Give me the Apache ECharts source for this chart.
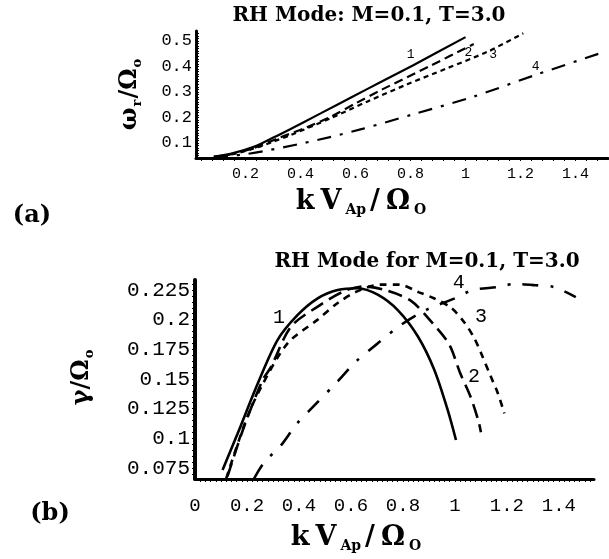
<!DOCTYPE html>
<html><head><meta charset="utf-8">
<script src="https://cdn.jsdelivr.net/npm/echarts@6/dist/echarts.min.js"></script>
<style>html,body{margin:0;padding:0;background:#fff}#c{width:609px;height:559px}</style>
</head><body><div id="c"></div>
<script>
// ---------- tick labels ----------
const topXTicks = [0.2, 0.4, 0.6, 0.8, 1, 1.2, 1.4];
const topXTickLabels = ['0.2', '0.4', '0.6', '0.8', '1', '1.2', '1.4'];
const topYTicks = [0.1, 0.2, 0.3, 0.4, 0.5];
const topYTickLabels = ['0.1', '0.2', '0.3', '0.4', '0.5'];
const botXTicks = [0, 0.2, 0.4, 0.6, 0.8, 1, 1.2, 1.4];
const botXTickLabels = ['0', '0.2', '0.4', '0.6', '0.8', '1', '1.2', '1.4'];
const botYTicks = [0.075, 0.1, 0.125, 0.15, 0.175, 0.2, 0.225];
const botYTickLabels = ['0.075', '0.1', '0.125', '0.15', '0.175', '0.2', '0.225'];

// ---------- panel (a): real frequency ----------
const topK1 = [0.085, 0.145, 0.23, 0.303, 0.364, 0.473, 0.594, 0.69, 0.81, 1.0];
const topW1 = [0.046, 0.057, 0.085, 0.122, 0.155, 0.216, 0.284, 0.338, 0.405, 0.515];
const topK2 = [0.085, 0.145, 0.23, 0.327, 0.42, 0.51, 0.6, 0.69, 0.873, 1.03];
const topW2 = [0.046, 0.055, 0.08, 0.122, 0.16, 0.203, 0.255, 0.306, 0.403, 0.488];
const topK3 = [0.085, 0.145, 0.23, 0.3, 0.364, 0.51, 0.642, 0.788, 0.933, 1.08, 1.21];
const topW3 = [0.046, 0.054, 0.078, 0.105, 0.131, 0.197, 0.262, 0.33, 0.393, 0.458, 0.53];
const topK4 = [0.085, 0.145, 0.2, 0.267, 0.4, 0.515, 0.628, 0.812, 1.03, 1.255, 1.49];
const topW4 = [0.046, 0.05, 0.056, 0.068, 0.097, 0.125, 0.156, 0.213, 0.282, 0.367, 0.452];
const topCurveLabels = ['1', '2', '3', '4'];
const topCurveLabelK = [0.8, 1.01, 1.1, 1.255];
const topCurveLabelW = [0.445, 0.453, 0.445, 0.398];

// ---------- panel (b): growth rate ----------
const botK1 = [0.106, 0.164, 0.241, 0.318, 0.395, 0.472, 0.549, 0.626, 0.703, 0.78, 0.857, 0.92, 0.972, 1.004];
const botG1 = [0.0733, 0.104, 0.146, 0.183, 0.204, 0.218, 0.225, 0.2265, 0.221, 0.208, 0.186, 0.158, 0.124, 0.0986];
const botK2 = [0.125, 0.189, 0.26, 0.292, 0.369, 0.472, 0.574, 0.651, 0.73, 0.83, 0.914, 0.978, 1.02, 1.06, 1.09, 1.1];
const botG2 = [0.068, 0.11, 0.149, 0.16, 0.194, 0.211, 0.224, 0.228, 0.225, 0.216, 0.197, 0.179, 0.155, 0.135, 0.115, 0.105];
const botK3 = [0.12, 0.196, 0.254, 0.356, 0.472, 0.549, 0.626, 0.715, 0.785, 0.862, 0.919, 0.985, 1.035, 1.073, 1.1, 1.138, 1.165, 1.19];
const botG3 = [0.066, 0.115, 0.143, 0.18, 0.2, 0.214, 0.224, 0.2295, 0.2295, 0.223, 0.218, 0.21, 0.198, 0.185, 0.172, 0.152, 0.138, 0.121];
const botK4 = [0.227, 0.267, 0.331, 0.391, 0.465, 0.549, 0.619, 0.703, 0.792, 0.888, 1.0, 1.07, 1.165, 1.227, 1.31, 1.38, 1.465];
const botG4 = [0.066, 0.08, 0.094, 0.112, 0.129, 0.148, 0.1646, 0.18, 0.1955, 0.208, 0.218, 0.225, 0.2275, 0.23, 0.229, 0.2275, 0.219];
const botCurveLabels = ['1', '2', '3', '4'];
const botCurveLabelK = [0.323, 1.073, 1.1, 1.015];
const botCurveLabelG = [0.2014, 0.1517, 0.2022, 0.2309];

// ---------- helpers ----------
const zip = (a, b) => a.map((v, i) => [v, b[i]]);
const lab = (ticks, labels) => (v) => {
  let bi = 0, bd = Infinity;
  ticks.forEach((t, i) => { const d = Math.abs(t - v); if (d < bd) { bd = d; bi = i; } });
  return labels[bi];
};
function minor(a, b, step) { const r = []; for (let v = a; v <= b + 1e-9; v += step) r.push(+v.toFixed(4)); return r; }

const AX = { show: true, lineStyle: { color: '#000', width: 3 } };
const serif = '"DejaVu Serif", "Liberation Serif", serif';
const mono = '"Liberation Mono", "DejaVu Sans Mono", monospace';

function lineSeries(xi, data, type, w) {
  return {
    type: 'line', xAxisIndex: xi, yAxisIndex: xi, data: data, showSymbol: false, smooth: 0.3,
    lineStyle: { color: '#000', width: w, type: type }, z: 3, animation: false, emphasis: { disabled: true }
  };
}
function labelSeries(xi, names, ks, vs, fs) {
  return {
    type: 'scatter', xAxisIndex: xi, yAxisIndex: xi, symbolSize: 1, animation: false, z: 5,
    itemStyle: { color: '#fff', opacity: 1 }, emphasis: { disabled: true }, silent: true,
    data: names.map((n, i) => ({ name: n, value: [ks[i], vs[i]] })),
    label: { show: true, position: 'inside', formatter: p => p.name, color: '#000', opacity: 1,
      textBorderWidth: 0, fontFamily: mono, fontSize: fs }
  };
}

const chart = echarts.init(document.getElementById('c'), null, { renderer: 'canvas' });
const dashTop2 = [9, 5], dashTop3 = [5, 4], dashTop4 = [14, 9, 3, 9];
const dashBot2 = [14, 7], dashBot3 = [7, 6], dashBot4 = [16, 12, 3, 12];

const xRich = {
  m: { font: 'bold 27px ' + serif, lineHeight: 30, padding: [0, 3, 0, 3] },
  s: { font: 'bold 14px ' + serif, lineHeight: 14, verticalAlign: 'bottom', padding: [0, 1, 0, 1] }
};
const yRich = {
  m: { font: 'bold 24px ' + serif, lineHeight: 28, padding: [0, 1, 0, 1] },
  s: { font: 'bold 13px ' + serif, lineHeight: 13, verticalAlign: 'bottom' }
};

chart.setOption({
  backgroundColor: '#fff',
  animation: false,
  grid: [
    { left: 196, width: 412, top: 31, height: 127 },
    { left: 195, width: 399, top: 280, height: 199 }
  ],
  xAxis: [
    { type: 'value', gridIndex: 0, min: 0.02, max: 1.518, splitLine: { show: false },
      axisLine: AX,
      axisTick: { show: true, customValues: minor(0.04, 1.5, 0.04), length: 3, inside: false, lineStyle: { color: '#000', width: 1 } },
      axisLabel: { customValues: topXTicks, formatter: lab(topXTicks, topXTickLabels), fontFamily: mono, fontSize: 15, color: '#000', margin: 9 } },
    { type: 'value', gridIndex: 1, min: 0, max: 1.535, splitLine: { show: false },
      axisLine: AX,
      axisTick: { show: true, customValues: minor(0.02, 1.52, 0.02), length: 3, inside: false, lineStyle: { color: '#000', width: 1 } },
      axisLabel: { customValues: botXTicks, formatter: lab(botXTicks, botXTickLabels), fontFamily: mono, fontSize: 19, color: '#000', margin: 17 } }
  ],
  yAxis: [
    { type: 'value', gridIndex: 0, min: 0.041, max: 0.539, splitLine: { show: false },
      axisLine: AX,
      axisTick: { show: true, customValues: minor(0.05, 0.53, 0.01), length: 3, inside: true, lineStyle: { color: '#000', width: 1 } },
      axisLabel: { customValues: topYTicks, formatter: lab(topYTicks, topYTickLabels), fontFamily: mono, fontSize: 17, color: '#000', margin: 4 } },
    { type: 'value', gridIndex: 1, min: 0.0657, max: 0.2334, splitLine: { show: false },
      axisLine: { show: true, lineStyle: { color: '#000', width: 4 } },
      axisTick: { show: true, customValues: minor(0.07, 0.23, 0.005), length: 3, inside: false, lineStyle: { color: '#000', width: 1 } },
      axisLabel: { customValues: botYTicks, formatter: lab(botYTicks, botYTickLabels), fontFamily: mono, fontSize: 21, color: '#000', margin: 5 } }
  ],
  series: [
    lineSeries(0, zip(topK1, topW1), 'solid', 2.2),
    lineSeries(0, zip(topK2, topW2), dashTop2, 2.2),
    lineSeries(0, zip(topK3, topW3), dashTop3, 2.2),
    lineSeries(0, zip(topK4, topW4), dashTop4, 2.2),
    labelSeries(0, topCurveLabels, topCurveLabelK, topCurveLabelW, 13),
    lineSeries(1, zip(botK1, botG1), 'solid', 2.6),
    lineSeries(1, zip(botK2, botG2), dashBot2, 2.6),
    lineSeries(1, zip(botK3, botG3), dashBot3, 2.6),
    lineSeries(1, zip(botK4, botG4), dashBot4, 2.6),
    labelSeries(1, botCurveLabels, botCurveLabelK, botCurveLabelG, 20)
  ],
  graphic: [
    { type: 'text', x: 369, y: 16, style: { text: 'RH Mode: M=0.1, T=3.0', font: 'bold 20px ' + serif, fill: '#000', align: 'center', verticalAlign: 'middle' } },
    { type: 'text', x: 427, y: 262, style: { text: 'RH Mode for M=0.1, T=3.0', font: 'bold 20px ' + serif, fill: '#000', align: 'center', verticalAlign: 'middle' } },
    { type: 'text', x: 32, y: 216, style: { text: '(a)', font: 'bold 24px ' + serif, fill: '#000', align: 'center', verticalAlign: 'middle' } },
    { type: 'text', x: 50, y: 514, style: { text: '(b)', font: 'bold 24px ' + serif, fill: '#000', align: 'center', verticalAlign: 'middle' } },
    { type: 'text', x: 360, y: 202, style: { text: '{m|k}{m|V}{s|Ap}{m|/}{m|Ω}{s|O}', align: 'center', verticalAlign: 'middle', fill: '#000', rich: xRich } },
    { type: 'text', x: 355, y: 538, style: { text: '{m|k}{m|V}{s|Ap}{m|/}{m|Ω}{s|O}', align: 'center', verticalAlign: 'middle', fill: '#000', rich: xRich } },
    { type: 'text', x: 130, y: 95, rotation: Math.PI / 2, style: { text: '{m|ω}{s|r}{m|/Ω}{s|o}', align: 'center', verticalAlign: 'middle', fill: '#000', rich: yRich } },
    { type: 'text', x: 82, y: 378, rotation: Math.PI / 2, style: { text: '{m|γ/Ω}{s|o}', align: 'center', verticalAlign: 'middle', fill: '#000', rich: yRich } }
  ]
});
</script>
</body></html>
